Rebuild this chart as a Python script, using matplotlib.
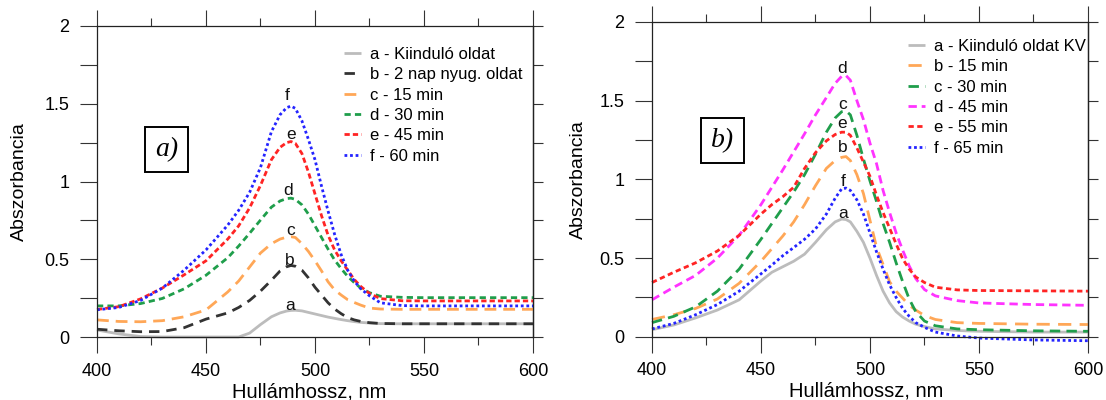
import matplotlib
matplotlib.use("Agg")
import matplotlib.pyplot as plt
from matplotlib.ticker import MultipleLocator, FormatStrFormatter

plt.rcParams["font.family"] = ["Liberation Sans", "DejaVu Sans"]
plt.rcParams["lines.scale_dashes"] = False

# --- panel a) ---
wl_a = [400, 410, 420, 430, 440, 450, 460, 465, 470, 475, 480, 484, 487, 489, 491,
        494, 497, 500, 503, 506, 509, 512, 515, 518, 521, 525, 530, 540, 550, 575, 600]
a_a = [0.045, 0.02, 0.003, 0, 0, 0, 0, 0, 0.025, 0.08, 0.13, 0.155, 0.167, 0.171, 0.172,
       0.168, 0.158, 0.148, 0.138, 0.128, 0.12, 0.112, 0.105, 0.099, 0.094, 0.09, 0.086,
       0.085, 0.085, 0.085, 0.085]
a_b = [0.05, 0.04, 0.034, 0.035, 0.06, 0.115, 0.155, 0.19, 0.235, 0.295, 0.365, 0.425,
       0.452, 0.46, 0.455, 0.43, 0.38, 0.32, 0.27, 0.22, 0.18, 0.15, 0.125, 0.11, 0.1,
       0.092, 0.087, 0.085, 0.085, 0.085, 0.085]
a_c = [0.11, 0.1, 0.098, 0.105, 0.13, 0.174, 0.29, 0.36, 0.45, 0.54, 0.6, 0.63, 0.642,
       0.645, 0.64, 0.6, 0.55, 0.49, 0.425, 0.355, 0.303, 0.27, 0.24, 0.222, 0.205,
       0.186, 0.18, 0.178, 0.178, 0.178, 0.178]
a_d = [0.2, 0.2, 0.215, 0.248, 0.31, 0.397, 0.51, 0.585, 0.667, 0.752, 0.835, 0.875,
       0.89, 0.893, 0.885, 0.85, 0.79, 0.715, 0.64, 0.565, 0.495, 0.44, 0.39, 0.35,
       0.315, 0.285, 0.262, 0.255, 0.253, 0.253, 0.253]
a_e = [0.177, 0.195, 0.245, 0.315, 0.4, 0.49, 0.63, 0.715, 0.83, 0.975, 1.14, 1.22,
       1.25, 1.257, 1.245, 1.18, 1.06, 0.92, 0.78, 0.655, 0.56, 0.49, 0.43, 0.37,
       0.325, 0.28, 0.247, 0.233, 0.232, 0.232, 0.232]
a_f = [0.175, 0.19, 0.235, 0.315, 0.43, 0.56, 0.72, 0.815, 0.93, 1.09, 1.32, 1.43,
       1.475, 1.485, 1.47, 1.39, 1.27, 1.14, 0.97, 0.81, 0.66, 0.53, 0.43, 0.36,
       0.31, 0.265, 0.22, 0.202, 0.2, 0.2, 0.2]
labels_a = ["a - Kiinduló oldat", "b - 2 nap nyug. oldat", "c - 15 min",
            "d - 30 min", "e - 45 min", "f - 60 min"]
letters_a = ["a", "b", "c", "d", "e", "f"]
letter_pos_a = [(488.5, 0.2), (488.5, 0.495), (489, 0.688), (487.8, 0.94),
                (488.8, 1.3), (487.3, 1.556)]

# --- panel b) ---
wl_b = [400, 410, 420, 430, 440, 450, 455, 460, 465, 470, 475, 480, 484, 487, 489,
        491, 494, 497, 500, 503, 506, 509, 512, 515, 518, 521, 525, 530, 540, 550,
        575, 600]
b_a = [0.045, 0.075, 0.12, 0.17, 0.235, 0.355, 0.41, 0.445, 0.48, 0.525, 0.6, 0.68,
       0.73, 0.748, 0.745, 0.73, 0.67, 0.6, 0.5, 0.39, 0.29, 0.215, 0.16, 0.125, 0.1,
       0.08, 0.065, 0.05, 0.04, 0.035, 0.03, 0.03]
b_b = [0.11, 0.14, 0.18, 0.24, 0.34, 0.48, 0.56, 0.64, 0.73, 0.84, 0.96, 1.07, 1.12,
       1.14, 1.145, 1.12, 1.03, 0.91, 0.74, 0.57, 0.46, 0.35, 0.29, 0.245, 0.2, 0.17,
       0.135, 0.11, 0.09, 0.085, 0.08, 0.078]
b_c = [0.09, 0.13, 0.19, 0.29, 0.43, 0.62, 0.72, 0.82, 0.92, 1.03, 1.16, 1.3, 1.39,
       1.43, 1.435, 1.41, 1.28, 1.13, 0.99, 0.86, 0.72, 0.6, 0.47, 0.35, 0.24, 0.16,
       0.1, 0.07, 0.05, 0.045, 0.038, 0.035]
b_d = [0.235, 0.315, 0.39, 0.5, 0.645, 0.84, 0.95, 1.06, 1.175, 1.29, 1.41, 1.52,
       1.61, 1.655, 1.66, 1.63, 1.5, 1.38, 1.23, 1.1, 0.93, 0.79, 0.66, 0.55, 0.45,
       0.37, 0.3, 0.26, 0.23, 0.215, 0.205, 0.2]
b_e = [0.345, 0.41, 0.47, 0.545, 0.645, 0.78, 0.84, 0.89, 0.95, 1.07, 1.17, 1.245,
       1.285, 1.3, 1.3, 1.28, 1.2, 1.11, 1.02, 0.9, 0.79, 0.69, 0.59, 0.495, 0.43,
       0.38, 0.345, 0.315, 0.298, 0.294, 0.292, 0.29]
b_f = [0.05, 0.085, 0.14, 0.205, 0.29, 0.4, 0.456, 0.515, 0.567, 0.62, 0.685, 0.78,
       0.88, 0.94, 0.945, 0.93, 0.87, 0.78, 0.66, 0.54, 0.43, 0.33, 0.25, 0.18, 0.13,
       0.09, 0.06, 0.03, 0.005, -0.008, -0.02, -0.025]
labels_b = ["a - Kiinduló oldat KV", "b - 15 min", "c - 30 min", "d - 45 min",
            "e - 55 min", "f - 65 min"]
letters_b = ["a", "b", "c", "d", "e", "f"]
letter_pos_b = [(487.8, 0.784), (487.5, 1.204), (487.5, 1.473), (487, 1.706),
                (487, 1.352), (487.5, 0.985)]

# line styles: (colour, dash pattern in points or None for solid)
styles_a = [("#bcbcbc", None), ("#333333", (7.5, 5)), ("#ffa757", (8.5, 5)),
            ("#1f9e4b", (4.5, 3)), ("#ff2424", (3.8, 2.2)), ("#2424ff", (2, 2))]
styles_b = [("#bcbcbc", None), ("#ffa757", (9.5, 6)), ("#1f9e4b", (7.5, 4.5)),
            ("#ff33ff", (6, 3.5)), ("#ff2424", (3.8, 2.5)), ("#2424ff", (2, 2))]

fig = plt.figure(figsize=(11.06, 4), dpi=100)
ax1 = fig.add_axes([0.0877, 0.1575, 0.3942, 0.7775])
ax2 = fig.add_axes([0.5895, 0.158, 0.3942, 0.787])


def style_axes(ax, ylabel_x, xlabel_x, xlabel_y):
    ax.set_xlim(400, 600)
    ax.set_ylim(0, 2)
    for sp in ax.spines.values():
        sp.set_color("#222222")
        sp.set_linewidth(0.9)
    ax.xaxis.set_major_locator(MultipleLocator(50))
    ax.xaxis.set_minor_locator(MultipleLocator(25))
    ax.yaxis.set_major_locator(MultipleLocator(0.5))
    ax.yaxis.set_minor_locator(MultipleLocator(0.25))
    ax.yaxis.set_major_formatter(FormatStrFormatter("%g"))
    ax.tick_params(axis="x", which="major", direction="out", length=11.5, width=0.8,
                   color="#333333", top=True, labelsize=13, pad=7)
    ax.tick_params(axis="x", which="minor", direction="out", length=5.8, width=0.8,
                   color="#333333", top=True)
    ax.tick_params(axis="y", which="both", direction="out", length=12, width=0.8,
                   color="#333333", right=False, labelsize=13, pad=8)
    sec = ax.secondary_yaxis("right")
    sec.yaxis.set_major_locator(MultipleLocator(0.5))
    sec.yaxis.set_minor_locator(MultipleLocator(0.25))
    sec.tick_params(which="both", direction="out", length=7.5, width=0.8,
                    color="#333333", labelright=False)
    sec.spines["right"].set_color("#222222")
    sec.spines["right"].set_linewidth(0.9)
    ax.set_xlabel("Hullámhossz, nm", fontsize=14.5)
    ax.xaxis.set_label_coords(xlabel_x, xlabel_y)
    ax.xaxis.label.set_verticalalignment("baseline")
    ax.set_ylabel("Abszorbancia", fontsize=14)
    ax.yaxis.set_label_coords(ylabel_x, 0.5)
    ax.yaxis.label.set_verticalalignment("center")


def draw_panel(ax, wl, series, styles, labels, letters, letter_pos, box_text, box_xy,
               legend_anchor):
    for ys, (col, dash), lab in zip(series, styles, labels):
        line, = ax.plot(wl, ys, color=col, lw=2.0, label=lab, clip_on=False,
                        solid_capstyle="butt", dash_capstyle="butt")
        if dash is not None:
            line.set_dashes(dash)
    for let, (x, y) in zip(letters, letter_pos):
        ax.text(x, y, let, fontsize=12.5, ha="center", va="center", color="#111111")
    ax.text(box_xy[0], box_xy[1], box_text, fontsize=20, ha="center", va="center",
            family=["Liberation Serif", "DejaVu Serif"], style="italic",
            bbox=dict(boxstyle="square,pad=0.36", fc="white", ec="black", lw=1.4))
    ax.legend(loc="upper left", bbox_to_anchor=legend_anchor,
              bbox_transform=fig.transFigure, frameon=False, fontsize=12,
              handlelength=1.0, handletextpad=0.55, labelspacing=0.32,
              borderpad=0, borderaxespad=0)


style_axes(ax1, -0.177, 0.486, -0.193)
style_axes(ax2, -0.168, 0.491, -0.191)

draw_panel(ax1, wl_a, [a_a, a_b, a_c, a_d, a_e, a_f], styles_a, labels_a, letters_a,
           letter_pos_a, "a)", (431.8, 1.203), (344 / 1106, 1 - 47 / 400))
draw_panel(ax2, wl_b, [b_a, b_b, b_c, b_d, b_e, b_f], styles_b, labels_b, letters_b,
           letter_pos_b, "b)", (432.5, 1.248), (908 / 1106, 1 - 39 / 400))

fig.savefig("out.png", dpi=100)
